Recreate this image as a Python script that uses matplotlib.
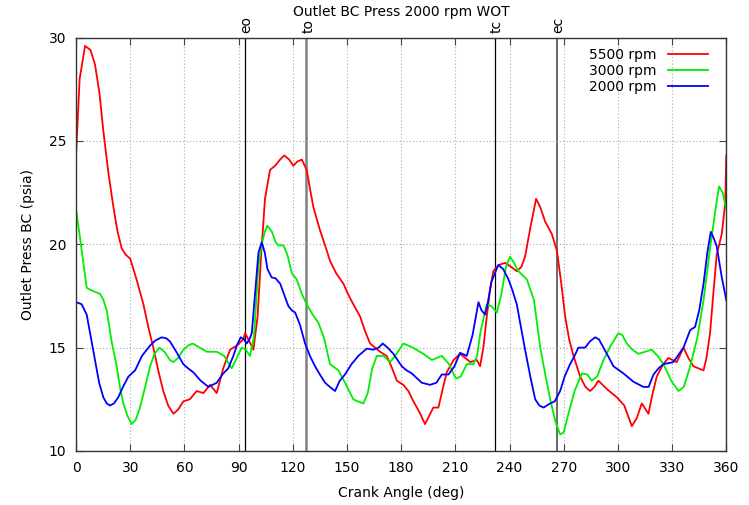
import numpy as np
import matplotlib
matplotlib.use("Agg")
import matplotlib.pyplot as plt
import matplotlib.transforms as mtransforms

# 5500 rpm (red)
red_deg = [0, 2, 5, 8, 10.5, 13, 15.1, 18, 20.7, 23, 25.3, 27.5, 30, 33.5, 37.3, 40, 42.8, 45.5, 48.3, 51,
           53.9, 56.5, 59.4, 63, 66.8, 70.5, 74.2, 77.9, 81.5, 85.3, 89, 92.6, 93.6, 96, 98.2, 100.5, 102.5,
           104.6, 107.4, 110.2, 113, 115.3, 118, 120.3, 122.5, 125, 127.7, 129.5, 131.4, 135, 138.8, 140.6,
           144, 148, 150.5, 153.5, 157.3, 160, 162.8, 165.5, 168.3, 172, 175, 177.6, 181.2, 184, 186.8, 190,
           193.2, 195.5, 197.8, 200.6, 203, 205.2, 209, 212.6, 215.5, 218.2, 221.9, 223.7, 225.5, 227.4, 229.2,
           231, 234, 237.5, 241, 244, 246.5, 248.6, 251.5, 254.7, 257, 259.7, 263.4, 266.2, 268.5, 270.8,
           273, 275.4, 279.1, 282, 284.6, 287, 289.2, 293.8, 299.4, 303.5, 307.7, 310.5, 313.2, 316.9, 319,
           321.5, 325, 328, 332.6, 336.3, 339, 341.8, 344.5, 347.4, 349, 351, 353, 354.7, 357.5, 359.4, 360]
red_val = [24.3, 28.0, 29.6, 29.4, 28.7, 27.3, 25.5, 23.4, 21.8, 20.6, 19.8, 19.5, 19.3, 18.3, 17.1, 16.0,
           15.0, 13.9, 12.9, 12.2, 11.8, 12.0, 12.4, 12.5, 12.9, 12.8, 13.2, 12.8, 14.0, 14.9, 15.1, 15.4,
           15.7, 15.3, 14.9, 16.5, 19.5, 22.2, 23.6, 23.8, 24.1, 24.3, 24.1, 23.8, 24.0, 24.1, 23.6, 22.7,
           21.8, 20.7, 19.7, 19.2, 18.6, 18.1, 17.6, 17.1, 16.5, 15.8, 15.2, 15.0, 14.8, 14.6, 14.0, 13.4,
           13.2, 12.9, 12.4, 11.9, 11.3, 11.7, 12.1, 12.1, 13.0, 13.8, 14.4, 14.7, 14.5, 14.3, 14.4, 14.1,
           15.0, 16.5, 17.8, 18.7, 19.0, 19.1, 18.9, 18.7, 18.9, 19.4, 20.8, 22.2, 21.8, 21.1, 20.5, 19.7,
           18.2, 16.5, 15.4, 14.6, 13.6, 13.1, 12.9, 13.1, 13.4, 13.0, 12.6, 12.2, 11.2, 11.6, 12.3, 11.8,
           12.7, 13.6, 14.2, 14.5, 14.3, 15.0, 14.5, 14.1, 14.0, 13.9, 14.5, 15.7, 17.8, 19.5, 20.5, 22.0, 24.3]

# 3000 rpm (green)
grn_deg = [0, 3, 5.9, 7.8, 10.5, 13.3, 15.2, 17, 19.7, 22.5, 24.5, 26.2, 28.5, 30.8, 33, 35.4, 38, 41, 43.5,
           46.1, 49, 52, 53.9, 56.5, 59.4, 62, 64.6, 68.5, 72.4, 75, 77.9, 82, 86.2, 89, 91.7, 94, 96.3, 98.5,
           100.9, 102.8, 104.5, 105.9, 108.5, 110.5, 112, 114.8, 117, 119.5, 122.2, 125, 127.7, 131, 134.2,
           137.5, 140.6, 145.3, 149.5, 153.5, 156, 159.1, 161.5, 164, 166.5, 170.2, 173.9, 177.5, 181.2,
           186.5, 192.3, 197, 202.5, 206.5, 210.3, 213, 216.3, 220, 222, 224, 227.4, 230, 233, 235.5, 238,
           240.3, 242.5, 244.9, 249.6, 253.5, 257, 260, 262.5, 265.5, 268, 270, 272.6, 276, 280, 283,
           285.5, 288.5, 292, 296, 300.3, 302.5, 304.9, 308, 311.3, 315, 318.7, 322, 325.2, 329.5, 333.5,
           336.5, 340, 344, 347.4, 351, 354.7, 356, 358, 360]
grn_val = [21.7, 19.8, 17.9, 17.8, 17.7, 17.6, 17.3, 16.8, 15.3, 14.1, 13.0, 12.3, 11.7, 11.3, 11.5, 12.1,
           13.0, 14.1, 14.7, 15.0, 14.8, 14.4, 14.3, 14.5, 14.9, 15.1, 15.2, 15.0, 14.8, 14.8, 14.8, 14.6,
           14.0, 14.5, 15.0, 14.9, 14.6, 15.5, 18.9, 20.0, 20.6, 20.9, 20.6, 20.1, 19.95, 19.95, 19.5, 18.6,
           18.3, 17.6, 17.1, 16.6, 16.2, 15.4, 14.2, 13.9, 13.2, 12.5, 12.4, 12.3, 12.8, 14.0, 14.6, 14.6,
           14.3, 14.7, 15.2, 15.0, 14.7, 14.4, 14.6, 14.2, 13.5, 13.6, 14.2, 14.2, 14.6, 15.8, 17.1, 17.0,
           16.7, 17.6, 18.9, 19.4, 19.1, 18.7, 18.3, 17.3, 15.0, 13.6, 12.5, 11.4, 10.8, 10.9, 11.8, 12.9,
           13.75, 13.7, 13.4, 13.6, 14.4, 15.1, 15.7, 15.6, 15.2, 14.9, 14.7, 14.8, 14.9, 14.6, 14.2, 13.4,
           12.9, 13.1, 14.1, 15.5, 17.3, 19.8, 22.1, 22.8, 22.5, 21.7]

# 2000 rpm (blue)
blu_deg = [0, 3.1, 5.9, 8, 10.5, 12.8, 15.1, 17, 18.8, 21, 23.4, 26, 29, 32.7, 36.5, 41, 44, 47.4, 50, 52,
           55.5, 59.4, 62, 65, 69, 73.3, 77.9, 81, 84.3, 87.1, 89, 91.2, 93, 94.5, 96, 97.3, 99, 101,
           102.8, 104.5, 106, 108.3, 110.5, 113, 115.5, 117.6, 119.5, 121.3, 124, 126.8, 129.5, 132.3, 135,
           137.9, 140.5, 143.4, 146, 148.9, 152.5, 156.3, 160.9, 164.6, 167.5, 169.8, 172.5, 175.7, 180.3,
           183, 185.9, 191.4, 196, 199.5, 202.5, 206.2, 209.5, 212.6, 216.3, 219.5, 222.8, 224.5, 226.5,
           228, 230, 233.8, 236.5, 239.4, 241.5, 244, 246.5, 248.6, 251.5, 254.2, 256.5, 258.8, 262.5, 265,
           268, 270.5, 273.5, 276, 278.1, 281.8, 284.5, 287.4, 289.5, 292, 294.5, 297.5, 303.1, 308.6, 314.1,
           317, 319.7, 322.5, 325.2, 330.7, 336.3, 340, 342.7, 345, 347.4, 349.5, 351.4, 353, 354.7, 357.5, 360]
blu_val = [17.2, 17.1, 16.6, 15.6, 14.4, 13.3, 12.6, 12.3, 12.2, 12.3, 12.6, 13.1, 13.6, 13.9, 14.6, 15.1,
           15.35, 15.5, 15.45, 15.3, 14.8, 14.2, 14.0, 13.8, 13.4, 13.1, 13.3, 13.7, 14.0, 14.6, 15.1, 15.5,
           15.4, 15.2, 15.4, 15.7, 17.5, 19.6, 20.1, 19.6, 18.8, 18.4, 18.35, 18.1, 17.5, 17.0, 16.8, 16.7,
           16.1, 15.2, 14.6, 14.1, 13.7, 13.3, 13.1, 12.9, 13.4, 13.7, 14.2, 14.6, 14.95, 14.9, 15.0, 15.2,
           15.0, 14.7, 14.1, 13.9, 13.75, 13.3, 13.2, 13.3, 13.7, 13.7, 14.1, 14.75, 14.6, 15.6, 17.2, 16.8,
           16.6, 17.2, 18.2, 19.0, 18.8, 18.3, 17.8, 17.1, 15.9, 14.9, 13.6, 12.5, 12.2, 12.1, 12.3, 12.4,
           12.9, 13.6, 14.2, 14.6, 15.0, 15.0, 15.3, 15.5, 15.4, 15.0, 14.6, 14.1, 13.75, 13.35, 13.1, 13.1,
           13.7, 14.0, 14.2, 14.3, 15.0, 15.85, 16.0, 16.8, 18.1, 19.6, 20.6, 20.3, 19.9, 18.4, 17.3]

series = [("5500 rpm", red_deg, red_val, "#ff0000"),
          ("3000 rpm", grn_deg, grn_val, "#00ee00"),
          ("2000 rpm", blu_deg, blu_val, "#0000ff")]

# valve event markers
event_names = ["eo", "to", "tc", "ec"]
event_deg = [93.5, 127.5, 232, 266.2]
event_color = ["black", "#808080", "black", "#505050"]
event_lw = [0.9, 1.8, 0.9, 1.2]

fig = plt.figure(figsize=(7.49, 5.05), dpi=100)
ax = fig.add_axes([0.1015, 0.107, 0.8682, 0.8185])

for name, xs, ys, col in series:
    ax.plot(xs, ys, color=col, lw=1.3, label=name)

trans = mtransforms.blended_transform_factory(ax.transData, ax.transAxes)
for name, d, c, w in zip(event_names, event_deg, event_color, event_lw):
    ax.axvline(d, color=c, lw=w, zorder=1)
    ax.text(d + 1, 1.012, name, transform=trans, rotation=90, ha="center", va="bottom", fontsize=10)

ax.set_xlim(0, 360)
ax.set_ylim(10, 30)
ax.set_xticks(np.arange(0, 361, 30))
ax.set_yticks(np.arange(10, 31, 5))
ax.grid(True, color="#aaaaaa", linestyle=(0, (1, 2)), lw=0.8)
ax.tick_params(direction="in", length=5, top=True, right=True, labelsize=10, pad=7, color="#444444")
for s in ax.spines.values():
    s.set_color("#333333")
    s.set_linewidth(1.0)

ax.set_xlabel("Crank Angle (deg)", fontsize=10, labelpad=8)
ax.set_ylabel("Outlet Press BC (psia)", fontsize=10, labelpad=10)
fig.text(0.5355, 0.977, "Outlet BC Press 2000 rpm WOT", ha="center", va="center", fontsize=10)

leg = ax.legend(loc="upper right", frameon=False, markerfirst=False, fontsize=10,
                handlelength=2.9, labelspacing=0.15, borderaxespad=0.5, bbox_to_anchor=(0.991, 1.005))

fig.savefig("out.png", dpi=100)
